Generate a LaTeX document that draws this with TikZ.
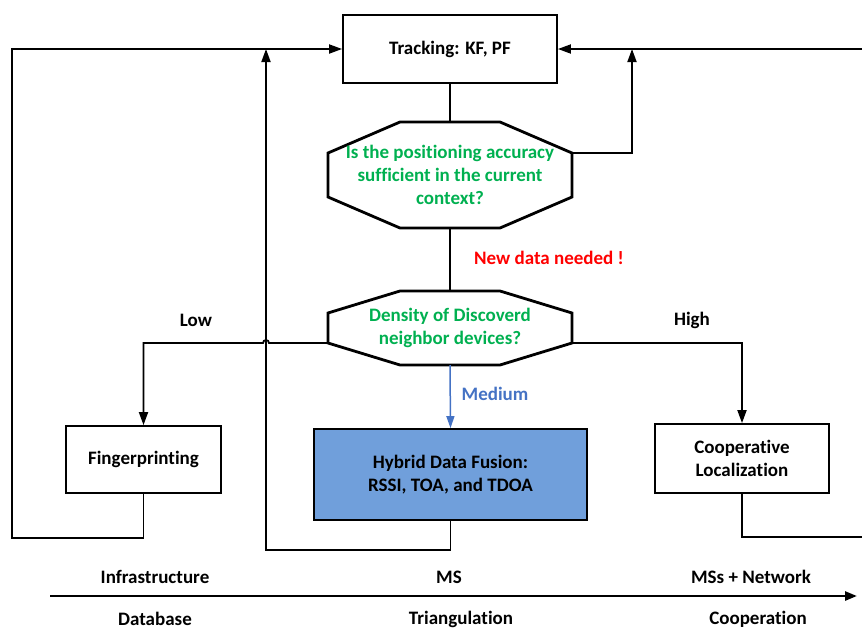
\documentclass[tikz,border=0pt]{standalone}
\usepackage{fontspec}
\setmainfont{Carlito}[Ligatures=NoCommon]
\usetikzlibrary{arrows.meta}
\definecolor{okgreen}{RGB}{0,176,80}
\definecolor{fusionblue}{RGB}{112,159,219}
\definecolor{medblue}{RGB}{68,114,196}
\begin{document}
\begin{tikzpicture}[x=1pt,y=-1pt,
  txt/.style={font=\fontsize{19}{23}\selectfont\bfseries, align=center, inner sep=0pt},
  axislabel/.style={font=\fontsize{19}{23}\selectfont\bfseries, inner sep=0pt},
  box/.style={txt, draw, line width=1.8pt},
  link/.style={line width=1.8pt, line join=miter},
  arr/.style={link, -{Triangle[length=13pt,width=9pt]}},
  oct/.style={line width=2.8pt, line join=miter},
  question/.style={txt, text=okgreen}]
\useasboundingbox (0,0) rectangle (862,630);

% process boxes
\node[box, minimum width=214pt, minimum height=68pt] (track) at (450,49) {Tracking: KF, PF};
\node[box, minimum width=155pt, minimum height=67pt] (finger) at (143.5,459.5) {Fingerprinting};
\node[box, fill=fusionblue, minimum width=273pt, minimum height=91pt] (fusion) at (450.5,474.5) {Hybrid Data Fusion:\\RSSI, TOA, and TDOA};
\node[box, minimum width=174pt, minimum height=69pt] (coop) at (742,458.5) {Cooperative\\Localization};

% decision octagons
\draw[oct] (400,122) -- (500,122) -- (572,153) -- (572,197) -- (500,228) -- (400,228) -- (328,197) -- (328,153) -- cycle;
\coordinate (q1n) at (450,122);
\coordinate (q1s) at (450,228);
\coordinate (q1e) at (572,153);
\node[question] (q1) at (450,175) {Is the positioning accuracy\\sufficient in the current\\context?};

\draw[oct] (400,291) -- (500,291) -- (572,313) -- (572,343) -- (500,365) -- (400,365) -- (328,343) -- (328,313) -- cycle;
\coordinate (q2n) at (450,291);
\coordinate (q2s) at (450,365);
\coordinate (q2w) at (328,343);
\coordinate (q2e) at (572,343);
\node[question] (q2) at (450,328) {Density of Discoverd\\neighbor devices?};

% main flow
\draw[link] (track.south) -- (q1n);
\draw[link] (q1s) -- (q2n);
\coordinate (rjoin) at (632,153);
\draw[arr] (q1e) -- (rjoin) -- (rjoin |- track.east);

% branches
\draw[arr] (q2w) -- (269,343) arc[start angle=0, end angle=180, radius=3pt] -- (finger.north |- q2w) -- (finger.north);
\draw[arr] (q2e) -| (coop.north);
\draw[medblue, line width=1.5pt, -{Triangle[length=12pt,width=8pt]}] (q2s) -- (fusion.north);

% feedback loops
\coordinate (lcorner) at (12,538);
\draw[arr] (finger.south) |- (lcorner) |- (track.west);
\coordinate (mcorner) at (266,550);
\draw[arr] (fusion.south) |- (mcorner) -- (mcorner |- track.west);
\coordinate (rexit) at (862,537);
\draw[link] (coop.south) |- (rexit);
\coordinate (rentry) at (862,49);
\draw[arr] (rentry) -- (track.east);

% labels
\node[txt] (low) at (196,320) {Low};
\node[txt] (high) at (692,320) {High};
\node[txt, text=medblue] (medium) at (495,394) {Medium};
\node[txt, text=red] (newdata) at (549,258) {New data needed !};

% axis
\coordinate (ax0) at (50,596);
\coordinate (ax1) at (857,596);
\draw[line width=2.6pt, -{Triangle[length=12pt,width=9pt]}] (ax0) -- (ax1);
\node[axislabel] (infra) at (155,577) {Infrastructure};
\node[axislabel] (ms) at (449,577) {MS};
\node[axislabel] (msnet) at (751,577) {MSs + Network};
\node[axislabel] (db) at (155,619) {Database};
\node[axislabel] (tri) at (461,619) {Triangulation};
\node[axislabel] (coopl) at (758,619) {Cooperation};
\end{tikzpicture}
\end{document}
